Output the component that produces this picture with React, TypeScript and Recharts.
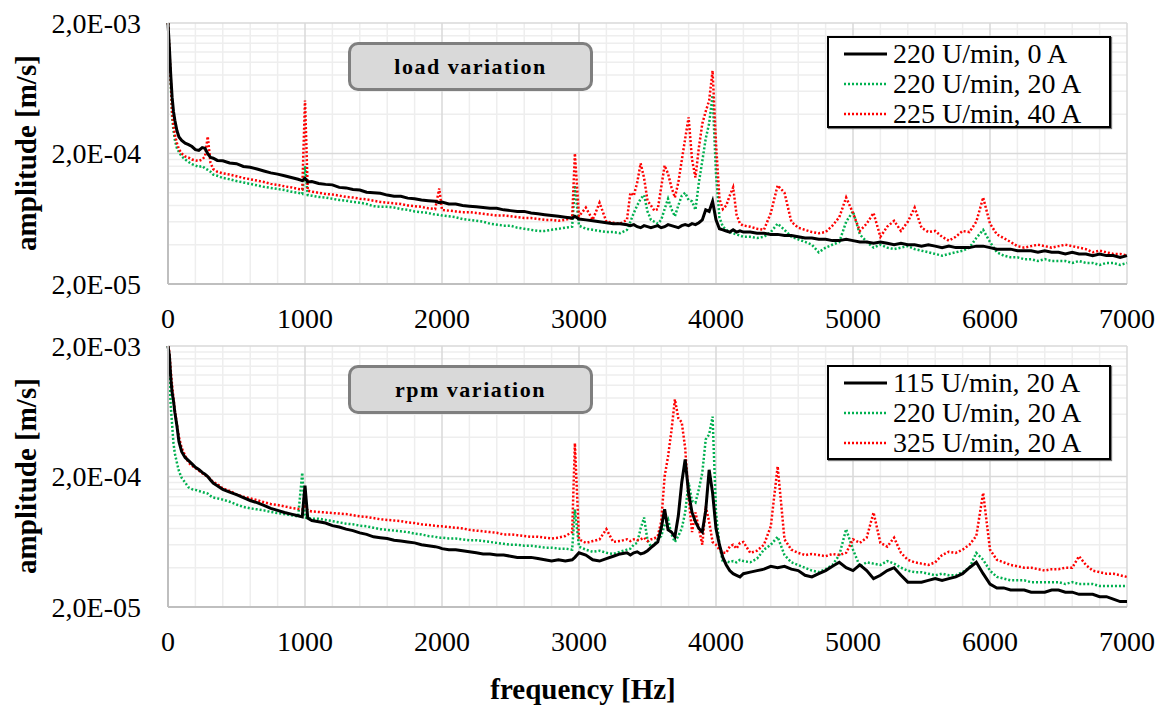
import React from "react";
import { LineChart, Line, XAxis, YAxis, ReferenceLine } from "recharts";

const FONT = '"Liberation Serif", "Times New Roman", serif';

// frequency grid [Hz], shared by both spectra
const freq = [
  0, 10, 20, 30, 40, 50, 65, 80, 100, 125,
  150, 175, 200, 225, 250, 270, 290, 310, 330, 360,
  400, 450, 500, 550, 600, 650, 700, 750, 800, 850,
  900, 950, 980, 1000, 1020, 1050,
  1100, 1150, 1200, 1250, 1300, 1350, 1400, 1450, 1500, 1550,
  1600, 1650, 1700, 1750, 1800, 1850, 1900, 1950,
  1980, 2000, 2050, 2100, 2150, 2200, 2250, 2300, 2350, 2400,
  2450, 2500, 2550, 2600, 2650, 2700, 2750, 2800, 2850, 2900,
  2950,
  2970, 3000, 3050, 3100, 3150, 3200, 3250, 3300, 3350,
  3375, 3400, 3425, 3450, 3475, 3500, 3525, 3550, 3575, 3600,
  3625, 3650, 3675, 3700, 3725, 3750, 3775, 3800, 3825, 3850,
  3875, 3900, 3925, 3950, 3975, 4000, 4025, 4050, 4075, 4100,
  4125, 4150, 4175, 4200,
  4250, 4300, 4350, 4400, 4450, 4500, 4550, 4600, 4650, 4700,
  4750, 4800, 4850, 4900, 4950, 5000, 5050, 5100, 5150, 5200,
  5250, 5300, 5350, 5400, 5450, 5500, 5550, 5600, 5650, 5700,
  5750, 5800, 5850, 5900, 5950, 6000, 6050, 6100, 6150, 6200,
  6250, 6300, 6350, 6400, 6450, 6500, 6550, 6600, 6650, 6700,
  6750, 6800, 6850, 6900, 6950, 7000,
];

// amplitudes in 1E-06 m/s

// load variation: 220 U/min, 0 A
const load0A = [
  2000, 1300, 800, 540, 420, 360, 300, 268, 252, 240,
  234, 226, 214, 211, 222, 219, 199, 187, 184, 177,
  176, 169, 167, 159, 157, 152, 147, 142, 139, 135,
  131, 127, 124, 129, 121, 122,
  118, 116, 115, 110, 109, 106, 105, 101, 100, 99,
  96, 94, 94, 91, 90, 88, 87, 86,
  84, 85, 82, 82, 80, 79, 78, 77, 76, 76,
  74, 73, 72, 72, 70, 69, 68, 67, 66, 65,
  64,
  66, 63, 62, 61, 60, 59, 58, 58, 57,
  56, 57, 55, 54, 56, 55, 54, 55, 56, 54,
  55, 57, 56, 55, 54, 56, 57, 56, 58, 57,
  59, 62, 74, 72, 86, 62, 53, 52, 51, 50,
  52, 50, 51, 50,
  50, 49, 49, 48, 48, 47, 47, 46, 45, 45,
  44, 44, 43, 43, 44, 43, 42, 42, 41, 42,
  41, 40, 41, 40, 40, 39, 40, 39, 38, 39,
  38, 38, 38, 39, 39, 38, 37, 37, 37, 36,
  36, 36, 35, 36, 35, 35, 34, 35, 34, 34,
  33, 34, 33, 33, 32, 33,
];

// load variation: 220 U/min, 20 A
const load20A = [
  2000, 1200, 700, 380, 300, 255, 220, 205, 190, 180,
  172, 166, 162, 158, 160, 154, 150, 145, 138, 135,
  130, 127, 123, 120, 117, 114, 111, 109, 107, 105,
  102, 100, 98, 160, 96, 95,
  93, 92, 90, 88, 87, 85, 84, 82, 79, 78,
  78, 77, 75, 74, 72, 71, 70, 68,
  68, 67, 66, 65, 63, 62, 61, 60, 58, 57,
  56, 56, 54, 53, 52, 51, 51, 52, 53, 54,
  55,
  114, 56, 53, 52, 51, 50, 50, 49, 52,
  60, 70, 80, 90, 96, 72, 62, 60, 58, 62,
  75, 90, 75, 66, 80, 95, 100, 88, 86, 74,
  120, 175, 260, 340, 560, 140, 65, 55, 52, 50,
  49, 48, 47, 46,
  46, 45, 46, 50, 58, 52, 46, 44, 42, 40,
  35, 38, 40, 42, 60, 72, 48, 42, 38, 40,
  38, 37, 38, 39, 37, 36, 35, 34, 33, 34,
  35, 36, 38, 45, 52, 42, 35, 33, 32, 32,
  31, 31, 30, 31, 30, 30, 30, 29, 30, 29,
  29, 28, 29, 29, 28, 29,
];

// load variation: 225 U/min, 40 A
const load40A = [
  2000, 1250, 750, 420, 330, 280, 240, 215, 200, 190,
  186, 180, 177, 175, 180, 190, 270, 170, 152, 145,
  141, 138, 134, 130, 127, 124, 121, 117, 115, 112,
  110, 107, 106, 510, 104, 102,
  100, 98, 97, 95, 93, 92, 90, 89, 87, 85,
  84, 83, 82, 80, 79, 78, 76, 75,
  108, 74, 73, 72, 71, 71, 70, 69, 68, 67,
  67, 66, 65, 64, 64, 63, 62, 62, 61, 62,
  64,
  200, 66, 77, 62, 84, 60, 59, 58, 62,
  100, 95, 120, 168, 130, 87, 80, 73, 75, 110,
  162, 140, 110, 92, 120, 177, 260, 378, 180, 131,
  222, 339, 420, 509, 862, 240, 90, 75, 80, 95,
  110, 68, 58, 56,
  55, 53, 52, 70, 114, 100, 60, 54, 52, 50,
  49, 50, 56, 65, 92, 70, 51, 58, 70, 46,
  55, 61, 51, 60, 77, 54, 50, 51, 46, 43,
  46, 51, 50, 60, 92, 58, 48, 45, 42, 39,
  38, 39, 40, 39, 38, 39, 40, 39, 38, 37,
  35, 36, 35, 34, 34, 33,
];

// rpm variation: 115 U/min, 20 A
const rpm115 = [
  2000, 1700, 1150, 880, 760, 620, 490, 370, 310, 280,
  265, 250, 235, 226, 215, 208, 200, 188, 178, 170,
  159, 152, 145, 138, 131, 126, 120, 114, 110, 106,
  103, 100, 98, 170, 96, 92,
  90, 88, 84, 82, 79, 77, 74, 72, 69, 68,
  67, 65, 64, 63, 62, 60, 59, 58,
  57, 56, 55, 55, 54, 53, 52, 51, 51, 50,
  50, 49, 48, 48, 48, 47, 46, 45, 46, 45,
  46,
  48, 52, 50, 46, 45, 47, 49, 51, 52,
  50, 52, 53, 51, 52, 54, 57, 60, 63, 80,
  112, 78, 75, 69, 100, 180, 270, 150, 106, 90,
  80, 75, 110, 225, 150, 80, 60, 48, 42, 38,
  36, 35, 34, 36,
  37, 38, 39, 41, 40, 41, 39, 38, 35, 34,
  36, 38, 41, 44, 40, 38, 42, 38, 33, 35,
  38, 40, 35, 31, 31, 31, 32, 33, 32, 33,
  34, 36, 40, 44, 36, 30, 28, 28, 27, 27,
  27, 26, 26, 26, 27, 27, 26, 26, 25, 25,
  25, 24, 24, 23, 22, 22,
];

// rpm variation: 220 U/min, 20 A
const rpm220 = [
  2000, 1100, 700, 500, 360, 300, 255, 220, 195, 180,
  165, 160, 158, 155, 152, 150, 148, 142, 138, 136,
  133, 128, 122, 117, 114, 112, 110, 107, 105, 103,
  101, 99, 214, 97, 96, 95,
  95, 93, 91, 89, 87, 86, 84, 83, 81, 79,
  78, 77, 76, 75, 73, 72, 70, 69,
  68, 68, 67, 67, 66, 65, 65, 64, 63, 62,
  61, 60, 60, 59, 59, 58, 57, 57, 56, 56,
  55,
  112, 58, 55, 53, 54, 52, 51, 53, 55,
  56, 60, 62, 80, 97, 65, 58, 60, 66, 70,
  85, 94, 72, 63, 70, 80, 106, 180, 130, 126,
  160, 214, 385, 420, 575, 106, 60, 44, 45, 44,
  45, 44, 46, 45,
  44, 47, 55, 60, 69, 50, 44, 42, 40, 38,
  37, 39, 42, 50, 79, 55, 41, 44, 43, 42,
  45, 43, 40, 38, 37, 37, 36, 35, 36, 35,
  35, 37, 40, 52, 46, 38, 34, 33, 32, 32,
  32, 31, 31, 31, 31, 31, 30, 31, 30, 30,
  30, 29, 29, 29, 29, 29,
];

// rpm variation: 325 U/min, 20 A
const rpm325 = [
  2000, 1800, 1300, 1000, 800, 640, 500, 400, 330, 290,
  255, 242, 232, 222, 212, 205, 200, 190, 182, 175,
  162, 155, 146, 140, 136, 132, 127, 123, 121, 118,
  115, 113, 112, 118, 110, 108,
  107, 106, 105, 104, 103, 101, 99, 98, 96, 94,
  93, 92, 91, 89, 88, 86, 85, 84,
  83, 83, 82, 81, 80, 78, 77, 76, 75, 74,
  72, 72, 71, 70, 69, 69, 68, 67, 68, 70,
  75,
  360, 66, 62, 64, 66, 79, 63, 64, 66,
  64, 66, 65, 66, 68, 64, 66, 67, 70, 90,
  200, 285, 450, 780, 560, 520, 330, 140, 75, 106,
  80, 60, 118, 90, 63, 60, 55, 52, 52, 58,
  60, 56, 62, 63,
  52, 54, 60, 83, 239, 66, 55, 52, 50, 51,
  50, 49, 51, 50, 52, 66, 62, 68, 106, 62,
  58, 68, 52, 46, 44, 43, 42, 44, 50, 53,
  52, 55, 60, 70, 150, 55, 46, 44, 42, 41,
  40, 40, 39, 38, 39, 39, 40, 40, 49, 42,
  38, 37, 36, 36, 35, 34,
];

const xTicks = [0, 1000, 2000, 3000, 4000, 5000, 6000, 7000];
const xMinor = [
  200, 400, 600, 800, 1200, 1400, 1600, 1800, 2200, 2400, 2600, 2800,
  3200, 3400, 3600, 3800, 4200, 4400, 4600, 4800, 5200, 5400, 5600, 5800,
  6200, 6400, 6600, 6800,
];
const yTicks = [2e-5, 2e-4, 2e-3];
const yMinor = [
  4e-5, 6e-5, 8e-5, 1e-4, 1.2e-4, 1.4e-4, 1.6e-4, 1.8e-4,
  4e-4, 6e-4, 8e-4, 1e-3, 1.2e-3, 1.4e-3, 1.6e-3, 1.8e-3,
];

const toTable = (a: number[], b: number[], c: number[]) =>
  freq.map((f, i) => ({ f, a: a[i] * 1e-6, b: b[i] * 1e-6, c: c[i] * 1e-6 }));

const fmtExp = (v: number) => {
  const [m, e] = v.toExponential(1).split("e");
  const n = Number(e);
  return m.replace(".", ",") + "E" + (n < 0 ? "-" : "+") + String(Math.abs(n)).padStart(2, "0");
};

const YTick = ({ x, y, payload }: any) => (
  <text x={x} y={y} textAnchor="end" dominantBaseline="central" fontSize={28} fill="#000" fontFamily={FONT}>
    {fmtExp(payload.value)}
  </text>
);

const XTick = ({ x, y, payload }: any) => (
  <text x={x} y={y} textAnchor="middle" dominantBaseline="central" fontSize={28} fill="#000" fontFamily={FONT}>
    {payload.value}
  </text>
);

interface SpectrumProps {
  top: number;
  data: ReturnType<typeof toTable>;
  title: string;
  labels: string[];
  legendTop: number;
  legendHeight: number;
}

const CH = 350; // chart height, plot area 23..284 inside it

const Spectrum = ({ top, data, title, labels, legendTop, legendHeight }: SpectrumProps) => (
  <div style={{ position: "absolute", left: 0, top, width: 1166, height: CH }}>
    <LineChart width={1166} height={CH} data={data} margin={{ top: 23, right: 39, left: 0, bottom: 0 }}>
      {xMinor.map((v) => (
        <ReferenceLine key={"xm" + v} x={v} stroke="#eeeeee" strokeWidth={1.5} />
      ))}
      {yMinor.map((v) => (
        <ReferenceLine key={"ym" + v} y={v} stroke="#eeeeee" strokeWidth={1.5} />
      ))}
      {xTicks.slice(1).map((v) => (
        <ReferenceLine key={"xM" + v} x={v} stroke="#d9d9d9" strokeWidth={1.5} />
      ))}
      {yTicks.slice(1).map((v) => (
        <ReferenceLine key={"yM" + v} y={v} stroke="#d9d9d9" strokeWidth={1.5} />
      ))}
      <XAxis
        dataKey="f"
        type="number"
        domain={[0, 7000]}
        ticks={xTicks}
        height={CH - 284}
        tickLine={false}
        tickSize={0}
        tickMargin={34}
        axisLine={{ stroke: "#bfbfbf", strokeWidth: 2 }}
        tick={<XTick />}
        interval={0}
      />
      <YAxis
        type="number"
        scale="log"
        domain={[2e-5, 2e-3]}
        ticks={yTicks}
        allowDataOverflow
        width={168}
        tickLine={false}
        tickSize={0}
        tickMargin={27}
        axisLine={{ stroke: "#bfbfbf", strokeWidth: 2 }}
        tick={<YTick />}
        interval={0}
      />
      <Line dataKey="b" type="linear" stroke="#00b050" strokeWidth={2.5} strokeDasharray="2 2" dot={false} isAnimationActive={false} />
      <Line dataKey="c" type="linear" stroke="#ff0000" strokeWidth={2.5} strokeDasharray="2 2" dot={false} isAnimationActive={false} />
      <Line dataKey="a" type="linear" stroke="#000000" strokeWidth={3} dot={false} isAnimationActive={false} />
    </LineChart>

    <div
      style={{
        position: "absolute",
        left: 26,
        top: 153,
        transform: "translate(-50%, -50%) rotate(-90deg)",
        whiteSpace: "nowrap",
        fontWeight: "bold",
        fontSize: 29,
        fontFamily: FONT,
      }}
    >
      amplitude [m/s]
    </div>

    <div
      style={{
        position: "absolute",
        left: 348,
        top: 42,
        width: 245,
        height: 49,
        boxSizing: "border-box",
        background: "#d9d9d9",
        border: "3px solid #7f7f7f",
        borderRadius: 10,
        display: "flex",
        alignItems: "center",
        justifyContent: "center",
        fontWeight: "bold",
        fontSize: 22,
        letterSpacing: 1.5,
        fontFamily: FONT,
      }}
    >
      {title}
    </div>

    <div
      style={{
        position: "absolute",
        left: 827,
        top: legendTop,
        width: 284,
        height: legendHeight,
        boxSizing: "border-box",
        background: "#fff",
        border: "2px solid #000",
        boxShadow: "1px 1px 1px #777",
        fontFamily: FONT,
        fontSize: 28,
        lineHeight: "30px",
        paddingTop: 1,
      }}
    >
      {labels.map((lab, i) => (
        <div key={lab} style={{ display: "flex", alignItems: "center", height: 30 }}>
          <svg width={64} height={30} style={{ flex: "none" }}>
            <line
              x1={15}
              x2={58}
              y1={15}
              y2={15}
              stroke={["#000000", "#00b050", "#ff0000"][i]}
              strokeWidth={i === 0 ? 3 : 2.5}
              strokeDasharray={i === 0 ? undefined : "2 2"}
            />
          </svg>
          <span style={{ whiteSpace: "nowrap" }}>{lab}</span>
        </div>
      ))}
    </div>
  </div>
);

const loadData = toTable(load0A, load20A, load40A);
const rpmData = toTable(rpm115, rpm220, rpm325);

export default function App() {
  return (
    <div style={{ position: "absolute", left: 0, top: 0, width: 1166, height: 706, background: "#fff", fontFamily: FONT }}>
      <Spectrum
        top={0}
        data={loadData}
        title="load variation"
        labels={["220 U/min, 0 A", "220 U/min, 20 A", "225 U/min, 40 A"]}
        legendTop={36}
        legendHeight={92}
      />
      <Spectrum
        top={323}
        data={rpmData}
        title="rpm variation"
        labels={["115 U/min, 20 A", "220 U/min, 20 A", "325 U/min, 20 A"]}
        legendTop={42}
        legendHeight={95}
      />
      <div
        style={{
          position: "absolute",
          left: 583,
          top: 689,
          transform: "translate(-50%, -50%)",
          whiteSpace: "nowrap",
          fontWeight: "bold",
          fontSize: 29,
          fontFamily: FONT,
        }}
      >
        frequency [Hz]
      </div>
    </div>
  );
}
